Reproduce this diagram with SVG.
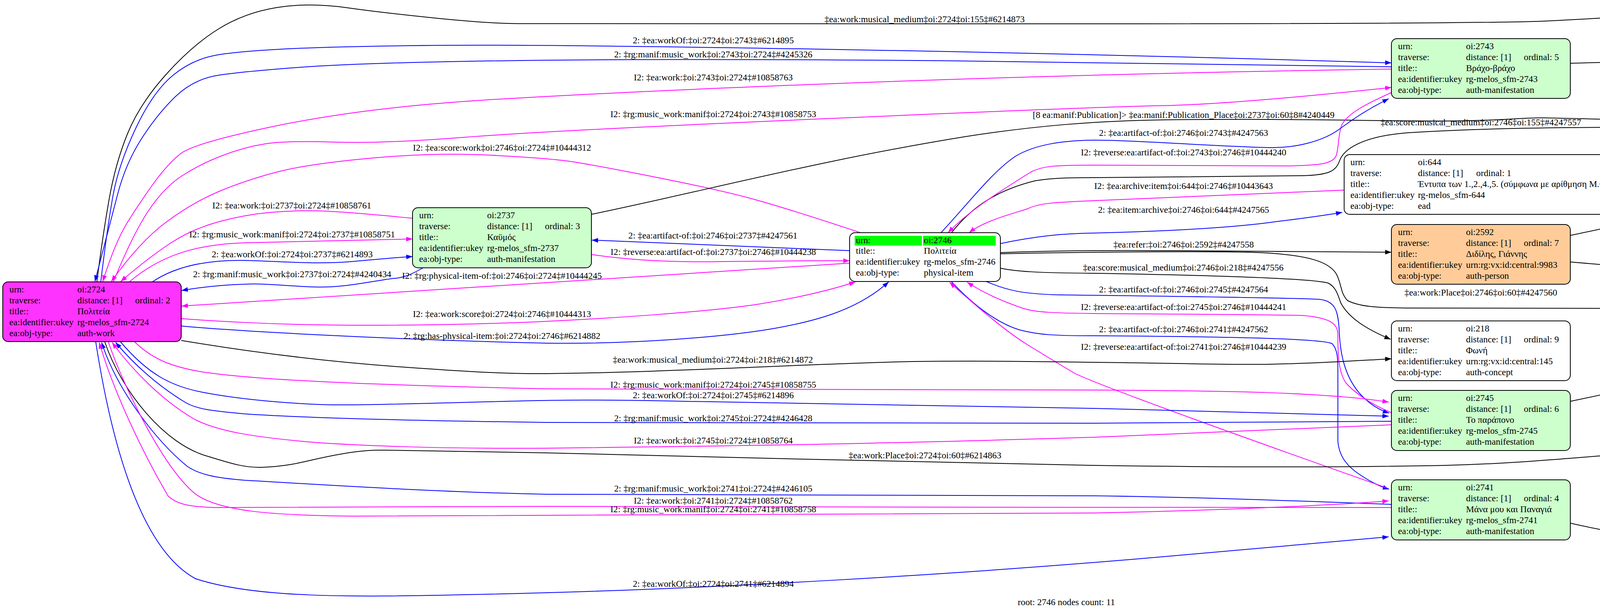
<svg xmlns="http://www.w3.org/2000/svg" width="5461" height="1565" viewBox="0 0 5461 1565">
<style>
text{font-family:"Liberation Serif","DejaVu Serif",serif;font-size:23.3px;fill:#000}
.lb{text-anchor:middle}
.nd{stroke:#000;stroke-width:2}
.k{fill:none;stroke:#000;stroke-width:2;marker-end:url(#ak)}
.u{fill:none;stroke:#0000ff;stroke-width:2;marker-end:url(#au)}
.m{fill:none;stroke:#ff00ff;stroke-width:2;marker-end:url(#am)}
</style>
<defs>
<marker id="ak" viewBox="0 0 16 12" refX="16" refY="6" markerWidth="16" markerHeight="12" markerUnits="userSpaceOnUse" orient="auto"><path d="M0,0 L16,6 L0,12 z" fill="#000"/></marker>
<marker id="au" viewBox="0 0 16 12" refX="16" refY="6" markerWidth="16" markerHeight="12" markerUnits="userSpaceOnUse" orient="auto"><path d="M0,0 L16,6 L0,12 z" fill="#0000ff"/></marker>
<marker id="am" viewBox="0 0 16 12" refX="16" refY="6" markerWidth="16" markerHeight="12" markerUnits="userSpaceOnUse" orient="auto"><path d="M0,0 L16,6 L0,12 z" fill="#ff00ff"/></marker>
</defs>
<rect width="5461" height="1565" fill="#fff"/>
<g id="edges">
<path class="k" d="M248,722 Q262,610 278.5,515 Q295,420 326,343.5 Q357,267 424,192 Q491,117 558,75 Q625,33 707.5,19.5 Q790,6 886,19.5 Q982,33 1116,46.5 Q1250,60 1325,60.5 Q1400,61 2604.5,61 Q3809,61 3954.5,54 Q4100,47 4280,35 Q4460,23 4540.5,28 Q4621,33 4751,66.5 Q4881,100 4968,141.5 Q5055,183 5150,271"/>
<path class="u" d="M258,722 Q275,580 289.5,500 Q304,420 348.5,326.5 Q393,233 444.5,191.5 Q496,150 560.5,140 Q625,130 759,124 Q893,118 1146.5,116 Q1400,114 2100,126 Q2800,138 3562,161"/>
<path class="u" d="M3562,171 Q2800,159 2412.5,155.5 Q2025,152 1712.5,152.5 Q1400,153 1146.5,158 Q893,163 759,173 Q625,183 560.5,192.5 Q496,202 449,247.5 Q402,293 361.5,356.5 Q321,420 300.5,500 Q280,580 243,721"/>
<path class="m" d="M3562,177 Q2800,188 2100,215.5 Q1400,243 1146.5,263 Q893,283 694.5,325 Q496,367 462.5,393.5 Q429,420 393,470 Q357,520 326,570 Q295,620 263,721"/>
<path class="m" d="M290,722 Q340,600 380,540 Q420,480 466.5,450 Q513,420 569,398.5 Q625,377 678.5,368.5 Q732,360 857,364 Q982,368 1191,351.5 Q1400,335 2100,304.5 Q2800,274 2978.5,270.5 Q3157,267 3562,224"/>
<path class="m" d="M2203,596 Q2025,537 1935.5,512 Q1846,487 1676.5,453.5 Q1507,420 1453.5,412.5 Q1400,405 1258,397.5 Q1116,390 951,405 Q786,420 705.5,441.5 Q625,463 558,491.5 Q491,520 424,570 Q357,620 285,721"/>
<path class="m" d="M1056,559 Q893,543 826,540.5 Q759,538 692,544 Q625,550 558,568.5 Q491,587 435.5,623.5 Q380,660 309,721"/>
<path class="m" d="M331,722 C410,655 500,626 625,622 L1056,612"/>
<path class="u" d="M390,722 C430,695 500,665 625,667 C720,669 800,678 900,670 C960,665 1010,660 1056,657"/>
<path class="u" d="M1083,686 C1050,705 1030,712 1009,713 C950,720 880,738 804,735 C720,732 680,725 625,728 C560,730 500,738 465,744"/>
<path class="u" d="M2175,642 L1515,615"/>
<path class="m" d="M1515,652 C1620,668 1740,672 1846,670 C1960,669 2080,667 2175,668"/>
<path class="m" d="M2175,674 L465,784"/>
<path class="m" d="M464,816 C540,822 700,832 893,833 C1100,834 1300,828 1400,823 C1550,816 1800,800 1936,780 C2030,765 2120,745 2190,722"/>
<path class="u" d="M464,835 C600,848 1000,870 1400,879 C1600,882 1850,865 1989,840 C2100,820 2200,790 2275,722"/>
<path class="k" d="M1514,549 C1800,490 2100,410 2471,350 C2650,322 2800,310 2979,307 C3300,303 3500,310 3693,310 C3850,310 3900,300 3961,302 C4100,305 4200,310 4490,307 C4700,310 4900,330 4950,380 C4980,420 4978,450 4988,470 L5147,695"/>
<path class="k" d="M4020,162 C4200,156 4500,155 4708,183 C4850,205 4920,240 4950,290 C4975,340 4975,400 4982,440 C4988,470 4993,480 5003,495 L5156,695"/>
<path class="k" d="M2436,596 C2480,540 2540,490 2650,463 C2700,455 2750,455 2800,455 L3336,450 C3400,448 3420,440 3430,410 C3440,385 3480,350 3604,340 C3800,328 4000,326 4200,326 C4500,326 4800,330 4985,339"/>
<path class="m" d="M3562,237 C3500,265 3450,290 3435,320 C3425,345 3428,380 3420,400 C3410,420 3380,423 3300,425 L2800,423 C2700,423 2670,425 2640,440 C2560,490 2480,540 2427,596"/>
<path class="u" d="M2409,596 C2480,520 2540,440 2600,400 C2650,370 2720,360 2800,359 C2900,358 3100,375 3246,378 C3320,380 3390,360 3430,330 C3470,300 3510,275 3555,253"/>
<path class="m" d="M3441,487 L2800,514 C2700,518 2660,520 2630,535 C2600,545 2520,565 2481,596"/>
<path class="u" d="M2561,624 C2650,605 2720,598 2800,597 C3000,592 3157,582 3250,570 C3330,560 3390,552 3436,544"/>
<path class="k" d="M2561,647 C2700,642 2800,641 3000,642 L3562,646"/>
<path class="k" d="M2561,650 C2800,645 3150,642 3246,648 C3350,655 3400,670 3420,700 C3435,725 3430,750 3450,770 C3480,785 3520,788 3600,789 L4200,790 L4993,777"/>
<path class="k" d="M2561,687 C2600,695 2650,699 2800,700 C3100,705 3350,712 3400,725 C3420,735 3425,755 3432,775 C3450,810 3490,840 3560,869"/>
<path class="u" d="M2525,721 C2580,745 2620,752 2700,755 C2900,758 3300,762 3380,767 C3420,772 3425,800 3428,840 C3430,900 3440,960 3480,1007 C3505,1035 3530,1050 3556,1058"/>
<path class="m" d="M3562,1057 C3520,1040 3470,1010 3445,980 C3425,950 3425,900 3425,860 C3425,830 3410,815 3336,808 C3200,805 2900,804 2800,803 C2700,802 2650,800 2620,790 C2560,770 2510,745 2476,723"/>
<path class="u" d="M2436,722 C2500,790 2560,830 2610,845 C2660,858 2700,860 2800,860 C3100,862 3380,866 3410,880 C3425,895 3425,920 3425,960 L3425,1130 C3428,1170 3450,1195 3480,1215 C3510,1235 3530,1245 3556,1253"/>
<path class="m" d="M3551,1250 Q2800,985 2747.5,954 Q2695,923 2628,881.5 Q2561,840 2431,723"/>
<path class="m" d="M344,875 C390,920 440,940 520,953 C650,972 900,985 1400,996 L2800,999 C3150,1001 3400,1005 3555,1030"/>
<path class="u" d="M308,875 C380,960 440,990 520,1005 C640,1028 800,1038 893,1037 C1100,1035 1300,1026 1450,1025 C1600,1024 1700,1027 1757,1028 C2200,1036 2600,1042 2800,1046 L3555,1066"/>
<path class="u" d="M3562,1079 L2800,1084 L1400,1082 C1100,1078 800,1072 625,1060 C540,1052 500,1048 470,1028 C400,985 340,930 296,877"/>
<path class="m" d="M3562,1088 C3200,1104 2900,1116 2800,1120 C2400,1132 2100,1140 1400,1148 C1100,1150 900,1140 804,1133 C650,1120 560,1105 500,1075 C420,1030 340,950 287,877"/>
<path class="k" d="M268,875 C310,1000 420,1140 536,1170 C600,1190 630,1198 670,1197 C730,1195 770,1185 804,1177 C880,1160 930,1152 982,1153 L1400,1160 C1800,1170 2400,1185 2800,1192 C3200,1198 3500,1196 3700,1192 C3900,1187 4050,1170 4200,1160 C4400,1150 4600,1125 4708,1096 C4850,1055 5050,960 5150,850"/>
<path class="k" d="M464,872 C600,895 800,925 1071,943 C1200,952 1300,958 1400,957 C1700,954 2000,935 2293,927 C2500,922 2700,927 2800,928 C3000,930 3150,935 3250,933 C3400,930 3500,922 3562,919"/>
<path class="u" d="M3562,1292 C3300,1282 3000,1272 2800,1270 L1400,1266 C1100,1260 800,1240 625,1230 C550,1224 510,1215 480,1195 C400,1130 300,1000 260,877"/>
<path class="m" d="M3562,1300 C3000,1302 2000,1297 1400,1297 C900,1298 650,1302 550,1300 C480,1298 450,1290 430,1270 C360,1150 290,1000 254,877"/>
<path class="m" d="M277,875 C320,1000 420,1200 500,1265 C560,1310 700,1320 900,1322 L2800,1314 C3100,1308 3400,1295 3555,1283"/>
<path class="u" d="M245,875 C280,1100 350,1400 500,1482 C650,1532 900,1530 1200,1523 C1800,1512 2500,1468 3000,1424 C3300,1398 3450,1386 3555,1375"/>
<path class="k" d="M4020,1028 L4993,822"/>
<path class="k" d="M4020,1340 C4150,1370 4250,1382 4360,1380 C4500,1378 4750,1330 4900,1260 C5050,1180 5150,1050 5198,850"/>
<path class="k" d="M4020,603 L4985,398"/>
<path class="k" d="M4020,671 L4993,753"/>
</g>
<g id="edge-labels">
<text class="lb" x="2367" y="57">‡ea:work:musical_medium‡oi:2724‡oi:155‡#6214873</text>
<text class="lb" x="1826" y="111">2: ‡ea:workOf:‡oi:2724‡oi:2743‡#6214895</text>
<text class="lb" x="1826" y="147">2: ‡rg:manif:music_work‡oi:2743‡oi:2724‡#4245326</text>
<text class="lb" x="1826" y="206">I2: ‡ea:work:‡oi:2743‡oi:2724‡#10858763</text>
<text class="lb" x="1826" y="300">I2: ‡rg:music_work:manif‡oi:2724‡oi:2743‡#10858753</text>
<text class="lb" x="3030" y="302">[8 ea:manif:Publication]&gt; ‡ea:manif:Publication_Place‡oi:2737‡oi:60‡8#4240449</text>
<text class="lb" x="1285" y="386">I2: ‡ea:score:work‡oi:2746‡oi:2724‡#10444312</text>
<text class="lb" x="3030" y="348">2: ‡ea:artifact-of:‡oi:2746‡oi:2743‡#4247563</text>
<text class="lb" x="3030" y="398">I2: ‡reverse:ea:artifact-of:‡oi:2743‡oi:2746‡#10444240</text>
<text class="lb" x="3791" y="321">‡ea:score:musical_medium‡oi:2746‡oi:155‡#4247557</text>
<text class="lb" x="4563" y="153">[18 ea:manif:Publication]&gt; ‡ea:manif:Publication_Place‡oi:2743‡oi:60‡18#4245342</text>
<text class="lb" x="4560" y="402">‡ea:person:instrument‡oi:2592‡oi:155‡#3897651</text>
<text class="lb" x="747" y="534">I2: ‡ea:work:‡oi:2737‡oi:2724‡#10858761</text>
<text class="lb" x="748" y="608">I2: ‡rg:music_work:manif‡oi:2724‡oi:2737‡#10858751</text>
<text class="lb" x="748" y="659">2: ‡ea:workOf:‡oi:2724‡oi:2737‡#6214893</text>
<text class="lb" x="748" y="710">2: ‡rg:manif:music_work‡oi:2737‡oi:2724‡#4240434</text>
<text class="lb" x="1285" y="714">I2: ‡rg:physical-item-of:‡oi:2746‡oi:2724‡#10444245</text>
<text class="lb" x="1285" y="812">I2: ‡ea:work:score‡oi:2724‡oi:2746‡#10444313</text>
<text class="lb" x="1285" y="868">2: ‡rg:has-physical-item:‡oi:2724‡oi:2746‡#6214882</text>
<text class="lb" x="1825" y="611">2: ‡ea:artifact-of:‡oi:2746‡oi:2737‡#4247561</text>
<text class="lb" x="1826" y="653">I2: ‡reverse:ea:artifact-of:‡oi:2737‡oi:2746‡#10444238</text>
<text class="lb" x="3030" y="484">I2: ‡ea:archive:item‡oi:644‡oi:2746‡#10443643</text>
<text class="lb" x="3030" y="545">2: ‡ea:item:archive‡oi:2746‡oi:644‡#4247565</text>
<text class="lb" x="3030" y="634">‡ea:refer:‡oi:2746‡oi:2592‡#4247558</text>
<text class="lb" x="3029" y="693">‡ea:score:musical_medium‡oi:2746‡oi:218‡#4247556</text>
<text class="lb" x="3030" y="749">2: ‡ea:artifact-of:‡oi:2746‡oi:2745‡#4247564</text>
<text class="lb" x="3030" y="794">I2: ‡reverse:ea:artifact-of:‡oi:2745‡oi:2746‡#10444241</text>
<text class="lb" x="3791" y="757">‡ea:work:Place‡oi:2746‡oi:60‡#4247560</text>
<text class="lb" x="3030" y="851">2: ‡ea:artifact-of:‡oi:2746‡oi:2741‡#4247562</text>
<text class="lb" x="3030" y="896">I2: ‡reverse:ea:artifact-of:‡oi:2741‡oi:2746‡#10444239</text>
<text class="lb" x="4559" y="680">‡ea:authPersonAssociated:Place_Death‡oi:2592‡oi:60‡#3897638</text>
<text class="lb" x="4563" y="825">[13 ea:manif:Publication]&gt; ‡ea:manif:Publication_Place‡oi:2745‡oi:60‡13#4246444</text>
<text class="lb" x="1825" y="929">‡ea:work:musical_medium‡oi:2724‡oi:218‡#6214872</text>
<text class="lb" x="1826" y="993">I2: ‡rg:music_work:manif‡oi:2724‡oi:2745‡#10858755</text>
<text class="lb" x="1826" y="1020">2: ‡ea:workOf:‡oi:2724‡oi:2745‡#6214896</text>
<text class="lb" x="1826" y="1079">2: ‡rg:manif:music_work‡oi:2745‡oi:2724‡#4246428</text>
<text class="lb" x="1826" y="1136">I2: ‡ea:work:‡oi:2745‡oi:2724‡#10858764</text>
<text class="lb" x="2368" y="1174">‡ea:work:Place‡oi:2724‡oi:60‡#6214863</text>
<text class="lb" x="1826" y="1259">2: ‡rg:manif:music_work‡oi:2741‡oi:2724‡#4246105</text>
<text class="lb" x="1826" y="1290">I2: ‡ea:work:‡oi:2741‡oi:2724‡#10858762</text>
<text class="lb" x="1826" y="1312">I2: ‡rg:music_work:manif‡oi:2724‡oi:2741‡#10858758</text>
<text class="lb" x="1826" y="1503">2: ‡ea:workOf:‡oi:2724‡oi:2741‡#6214894</text>
<text class="lb" x="4563" y="1228">[19 ea:manif:Publication]&gt; ‡ea:manif:Publication_Place‡oi:2741‡oi:60‡19#4246124</text>
</g>
<g id="n2724">
<rect class="nd" x="7" y="722" width="457" height="153" rx="14" fill="#ff33ff"/>
<text x="24" y="749">urn:</text><text x="198" y="749">oi:2724</text>
<text x="24" y="777">traverse:</text><text x="198" y="777">distance: [1]</text><text x="346" y="777">ordinal: 2</text>
<text x="24" y="805">title::</text><text x="198" y="805">Πολιτεία</text>
<text x="24" y="833">ea:identifier:ukey</text><text x="198" y="833">rg-melos_sfm-2724</text>
<text x="24" y="861">ea:obj-type:</text><text x="198" y="861">auth-work</text>
</g>
<g id="n2737">
<rect class="nd" x="1056" y="532" width="458" height="154" rx="14" fill="#ccffcc"/>
<text x="1073" y="559">urn:</text><text x="1247" y="559">oi:2737</text>
<text x="1073" y="587">traverse:</text><text x="1247" y="587">distance: [1]</text><text x="1395" y="587">ordinal: 3</text>
<text x="1073" y="615">title::</text><text x="1247" y="615">Καϋμός</text>
<text x="1073" y="643">ea:identifier:ukey</text><text x="1247" y="643">rg-melos_sfm-2737</text>
<text x="1073" y="671">ea:obj-type:</text><text x="1247" y="671">auth-manifestation</text>
</g>
<g id="n2746">
<rect class="nd" x="2175" y="596" width="386" height="125" rx="14" fill="#ffffff"/>
<rect x="2188" y="604" width="172" height="25" fill="#00ff00"/>
<rect x="2363" y="604" width="186" height="25" fill="#00ff00"/>
<text x="2191" y="623">urn:</text><text x="2365" y="623">oi:2746</text>
<text x="2191" y="650">title::</text><text x="2365" y="650">Πολιτεία</text>
<text x="2191" y="678">ea:identifier:ukey</text><text x="2365" y="678">rg-melos_sfm-2746</text>
<text x="2191" y="706">ea:obj-type:</text><text x="2365" y="706">physical-item</text>
</g>
<g id="n2743">
<rect class="nd" x="3562" y="99" width="458" height="153" rx="14" fill="#ccffcc"/>
<text x="3579" y="126">urn:</text><text x="3753" y="126">oi:2743</text>
<text x="3579" y="154">traverse:</text><text x="3753" y="154">distance: [1]</text><text x="3901" y="154">ordinal: 5</text>
<text x="3579" y="182">title::</text><text x="3753" y="182">Βράχο-βράχο</text>
<text x="3579" y="210">ea:identifier:ukey</text><text x="3753" y="210">rg-melos_sfm-2743</text>
<text x="3579" y="238">ea:obj-type:</text><text x="3753" y="238">auth-manifestation</text>
</g>
<g id="n644">
<rect class="nd" x="3441" y="396" width="701" height="153" rx="14" fill="#ffffff"/>
<text x="3457" y="423">urn:</text><text x="3630" y="423">oi:644</text>
<text x="3457" y="451">traverse:</text><text x="3630" y="451">distance: [1]</text><text x="3779" y="451">ordinal: 1</text>
<text x="3457" y="479">title::</text><text x="3630" y="479">Έντυπα των 1.,2.,4.,5. (σύμφωνα με αρίθμηση Μ.Θ.)</text>
<text x="3457" y="507">ea:identifier:ukey</text><text x="3630" y="507">rg-melos_sfm-644</text>
<text x="3457" y="535">ea:obj-type:</text><text x="3630" y="535">ead</text>
</g>
<g id="n2592">
<rect class="nd" x="3562" y="575" width="458" height="153" rx="14" fill="#ffcc99"/>
<text x="3579" y="602">urn:</text><text x="3753" y="602">oi:2592</text>
<text x="3579" y="630">traverse:</text><text x="3753" y="630">distance: [1]</text><text x="3901" y="630">ordinal: 7</text>
<text x="3579" y="658">title::</text><text x="3753" y="658">Διδίλης, Γιάννης</text>
<text x="3579" y="686">ea:identifier:ukey</text><text x="3753" y="686">urn:rg:vx:id:central:9983</text>
<text x="3579" y="714">ea:obj-type:</text><text x="3753" y="714">auth-person</text>
</g>
<g id="n218">
<rect class="nd" x="3562" y="822" width="458" height="153" rx="14" fill="#ffffff"/>
<text x="3579" y="849">urn:</text><text x="3753" y="849">oi:218</text>
<text x="3579" y="877">traverse:</text><text x="3753" y="877">distance: [1]</text><text x="3901" y="877">ordinal: 9</text>
<text x="3579" y="905">title::</text><text x="3753" y="905">Φωνή</text>
<text x="3579" y="933">ea:identifier:ukey</text><text x="3753" y="933">urn:rg:vx:id:central:145</text>
<text x="3579" y="961">ea:obj-type:</text><text x="3753" y="961">auth-concept</text>
</g>
<g id="n2745">
<rect class="nd" x="3562" y="1000" width="458" height="154" rx="14" fill="#ccffcc"/>
<text x="3579" y="1027">urn:</text><text x="3753" y="1027">oi:2745</text>
<text x="3579" y="1055">traverse:</text><text x="3753" y="1055">distance: [1]</text><text x="3901" y="1055">ordinal: 6</text>
<text x="3579" y="1083">title::</text><text x="3753" y="1083">Το παράπονο</text>
<text x="3579" y="1111">ea:identifier:ukey</text><text x="3753" y="1111">rg-melos_sfm-2745</text>
<text x="3579" y="1139">ea:obj-type:</text><text x="3753" y="1139">auth-manifestation</text>
</g>
<g id="n2741">
<rect class="nd" x="3562" y="1229" width="458" height="154" rx="14" fill="#ccffcc"/>
<text x="3579" y="1256">urn:</text><text x="3753" y="1256">oi:2741</text>
<text x="3579" y="1284">traverse:</text><text x="3753" y="1284">distance: [1]</text><text x="3901" y="1284">ordinal: 4</text>
<text x="3579" y="1312">title::</text><text x="3753" y="1312">Μάνα μου και Παναγιά</text>
<text x="3579" y="1340">ea:identifier:ukey</text><text x="3753" y="1340">rg-melos_sfm-2741</text>
<text x="3579" y="1368">ea:obj-type:</text><text x="3753" y="1368">auth-manifestation</text>
</g>
<g id="n155">
<rect class="nd" x="4985" y="271" width="469" height="152" rx="14" fill="#ffffff"/>
<text x="5002" y="298">urn:</text><text x="5176" y="298">oi:155</text>
<text x="5002" y="326">traverse:</text><text x="5176" y="326">distance: [1]</text><text x="5324" y="326">ordinal: 10</text>
<text x="5002" y="354">title::</text><text x="5176" y="354">Πιάνο</text>
<text x="5002" y="382">ea:identifier:ukey</text><text x="5176" y="382">urn:rg:vx:id:central:136</text>
<text x="5002" y="410">ea:obj-type:</text><text x="5176" y="410">auth-concept</text>
</g>
<g id="n60">
<rect class="nd" x="4993" y="696" width="457" height="153" rx="14" fill="#ffffff"/>
<text x="5010" y="723">urn:</text><text x="5184" y="723">oi:60</text>
<text x="5010" y="751">traverse:</text><text x="5184" y="751">distance: [1]</text><text x="5332" y="751">ordinal: 8</text>
<text x="5010" y="779">title::</text><text x="5184" y="779">Αθήνα</text>
<text x="5010" y="807">ea:identifier:ukey</text><text x="5184" y="807">urn:rg:vx:id:central:216</text>
<text x="5010" y="835">ea:obj-type:</text><text x="5184" y="835">auth-place</text>
</g>
<text class="lb" x="2730" y="1550">root: 2746 nodes count: 11</text>
</svg>
